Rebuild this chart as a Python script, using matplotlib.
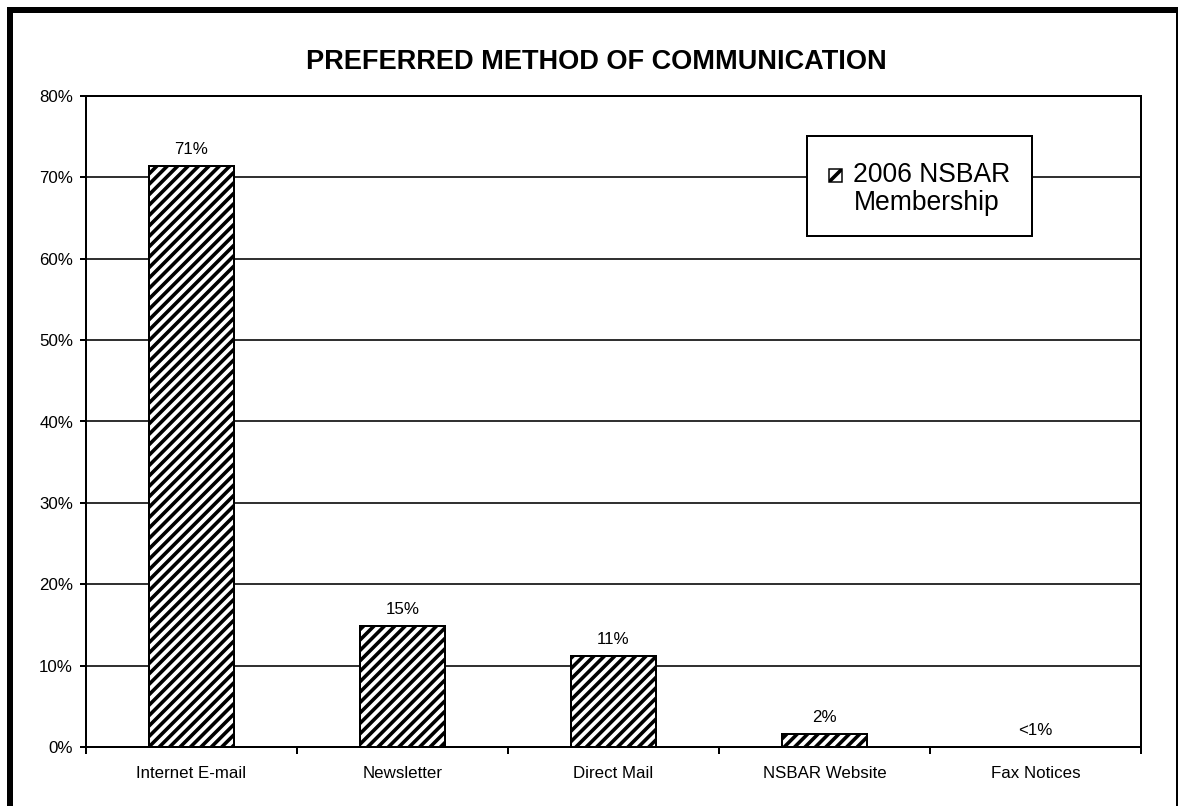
import matplotlib
matplotlib.use("Agg")
import matplotlib.pyplot as plt
from matplotlib.lines import Line2D
from matplotlib.patches import Rectangle
import numpy as np

plt.rcParams['font.family'] = ['Liberation Sans', 'DejaVu Sans']

# Survey data
categories = ["Internet E-mail", "Newsletter", "Direct Mail", "NSBAR Website", "Fax Notices"]
shares = [71.4, 14.9, 11.2, 1.6, 0.0]
yticks = [0, 10, 20, 30, 40, 50, 60, 70, 80]
title = "PREFERRED METHOD OF COMMUNICATION"
series_label = ["2006 NSBAR", "Membership"]

DPI = 125
W, H = 1178, 806


def pt(px):
    return px * 72.0 / DPI


def fx(x):
    return x / W


def fy(y):
    return 1 - y / H


plt.rcParams['hatch.linewidth'] = pt(3.6)
plt.rcParams['hatch.color'] = 'black'

fig = plt.figure(figsize=(W / DPI, H / DPI), dpi=DPI, facecolor='white')
ax = fig.add_axes([fx(86), fy(747), (1141 - 86) / W, (747 - 96) / H])

x = np.arange(len(categories))
bars = ax.bar(x, shares, width=0.40, facecolor='white', edgecolor='black',
              linewidth=pt(2), hatch='////', zorder=2)

for xi, v in zip(x, shares):
    lab = "<1%" if v < 1 else f"{v:.0f}%"
    ax.annotate(lab, (xi, v), xytext=(0, pt(9)), textcoords='offset points',
                ha='center', va='bottom', fontsize=9.7, zorder=4)

ax.set_xlim(-0.5, len(categories) - 0.5)
ax.set_ylim(0, 80)
ax.set_yticks(yticks)
ax.set_yticklabels([f"{t}%" for t in yticks], fontsize=9.7)
ax.set_xticks(x)
ax.set_xticklabels(categories, fontsize=9.7)
ax.set_xticks(np.arange(-0.5, len(categories)), minor=True)
ax.tick_params(axis='x', which='major', length=0, pad=pt(19))
ax.tick_params(axis='x', which='minor', length=pt(7), width=pt(2), direction='out')
ax.tick_params(axis='y', length=pt(6), width=pt(2), pad=pt(7), direction='out')

ax.yaxis.grid(True, color='black', linewidth=pt(1.6), zorder=1)
ax.set_axisbelow(True)
for s in ax.spines.values():
    s.set_linewidth(pt(2))
    s.set_color('black')
    s.set_zorder(3)

fig.text(fx(596), fy(62), title, ha='center', va='center',
         fontsize=15.6, fontweight='bold')

# Legend box drawn in figure pixels
box = Rectangle((fx(807), fy(236)), (1032 - 807) / W, (236 - 136) / H,
                transform=fig.transFigure, facecolor='white', edgecolor='black',
                linewidth=pt(2), zorder=10)
fig.patches.append(box)
key = Rectangle((fx(829), fy(182)), 13 / W, 13 / H, transform=fig.transFigure,
                facecolor='white', edgecolor='black', linewidth=pt(1.5), zorder=11)
fig.patches.append(key)
stripe = Line2D([fx(829), fx(842)], [fy(182), fy(169)], transform=fig.transFigure,
                color='black', linewidth=pt(3.6), zorder=12)
stripe.set_clip_path(key)
fig.add_artist(stripe)
fig.text(fx(853), fy(175.5), series_label[0], ha='left', va='center',
         fontsize=15.3, zorder=12)
fig.text(fx(927), fy(203), series_label[1], ha='center', va='center',
         fontsize=15.3, zorder=12)

# Outer frame
fig.add_artist(Line2D([fx(10), fx(10)], [fy(10), 0], transform=fig.transFigure,
                      color='black', linewidth=pt(6), solid_capstyle='projecting'))
fig.add_artist(Line2D([fx(10), fx(1178)], [fy(10), fy(10)], transform=fig.transFigure,
                      color='black', linewidth=pt(6), solid_capstyle='butt'))
fig.add_artist(Line2D([fx(1176.5), fx(1176.5)], [fy(10), 0], transform=fig.transFigure,
                      color='black', linewidth=pt(2)))

fig.savefig("out.png", dpi=DPI, facecolor='white')
